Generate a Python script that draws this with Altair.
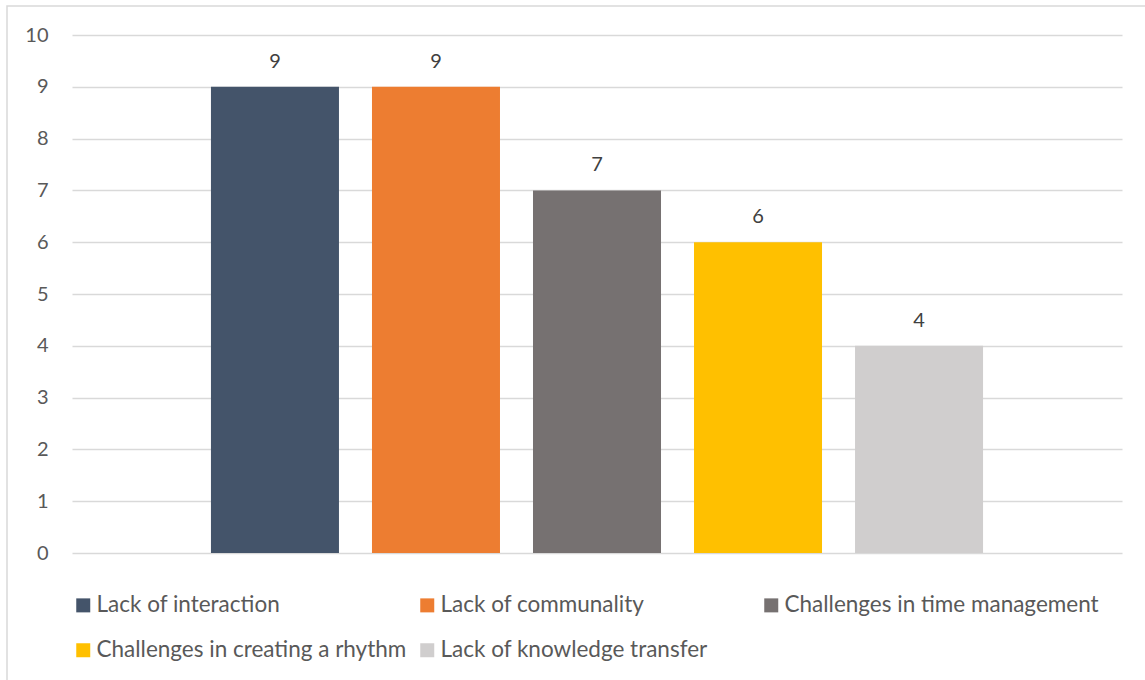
import altair as alt
import pandas as pd

# Reported obstacles and how many respondents named each one
issues = [
    "Lack of interaction",
    "Lack of communality",
    "Challenges in time management",
    "Challenges in creating a rhythm",
    "Lack of knowledge transfer",
]
counts = [9, 9, 7, 6, 4]
colors = ["#44546A", "#ED7D31", "#767171", "#FFC000", "#D0CECE"]
y_ticks = list(range(0, 11))

df = pd.DataFrame({"issue": issues, "count": counts})

FONT = "Lato"
TEXT = "#595959"

x_enc = alt.X(
    "issue:N",
    sort=issues,
    axis=None,
    scale=alt.Scale(paddingInner=0.205, paddingOuter=0.863),
)
y_enc = alt.Y(
    "count:Q",
    scale=alt.Scale(domain=[0, 10], nice=False),
    axis=alt.Axis(
        values=y_ticks,
        grid=True,
        gridColor="#D9D9D9",
        gridWidth=1.5,
        domain=False,
        ticks=False,
        tickSize=0,
        labelPadding=24,
        labelFontSize=20,
        labelFont=FONT,
        labelColor=TEXT,
        title=None,
    ),
)

bars = alt.Chart(df).mark_bar().encode(
    x=x_enc,
    y=y_enc,
    color=alt.Color(
        "issue:N",
        sort=issues,
        scale=alt.Scale(domain=issues, range=colors),
        legend=alt.Legend(
            orient="none",
            legendX=0,
            legendY=559,
            direction="horizontal",
            columns=3,
            gridAlign="all",
            columnPadding=5,
            rowPadding=22,
            padding=0,
            symbolType="square",
            symbolSize=196,
            symbolStrokeWidth=0,
            labelFontSize=22.5,
            labelFont=FONT,
            labelColor=TEXT,
            labelOffset=2,
            labelLimit=0,
            title=None,
        ),
    ),
)

labels = alt.Chart(df).mark_text(
    dy=-19, baseline="alphabetic", fontSize=20, font=FONT, color="#404040"
).encode(x=x_enc, y=y_enc, text="count:Q")

# Thin frame around the whole chart area
frame = alt.Chart(pd.DataFrame({"k": [0]})).mark_rect(
    filled=False, stroke="#D9D9D9", strokeWidth=1.5
).encode(
    x=alt.value(-65), x2=alt.value(1100), y=alt.value(-29), y2=alt.value(700)
)

chart = (
    alt.layer(frame, bars, labels)
    .properties(
        width=1050,
        height=518,
        autosize=alt.AutoSizeParams(type="none"),
        padding={"left": 72, "top": 35, "right": 23, "bottom": 127},
        background="white",
    )
    .configure_view(stroke=None)
)

chart.save("out.html", embed_options={"renderer": "svg", "actions": False})
